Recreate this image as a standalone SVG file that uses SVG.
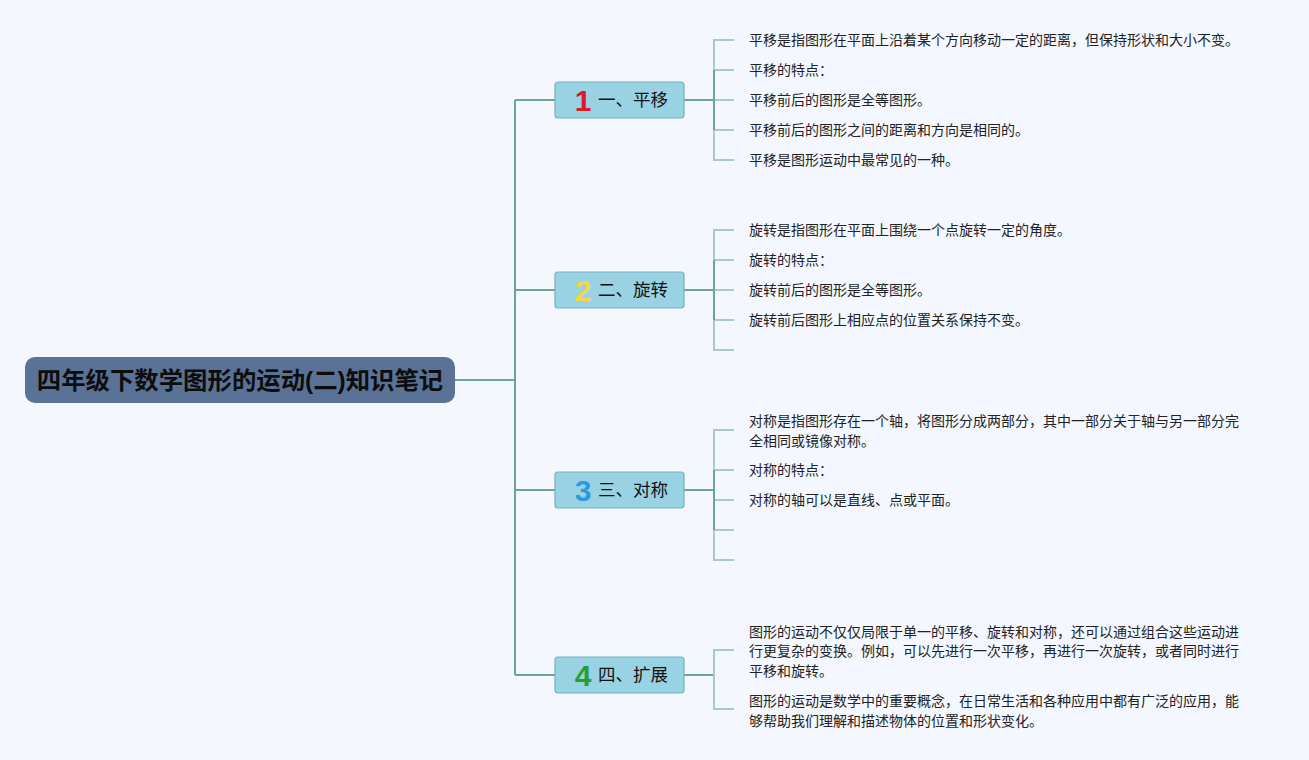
<svg xmlns="http://www.w3.org/2000/svg" width="1309" height="760" viewBox="0 0 1309 760">
<style>
.bg{fill:#f4f8fe}
.root{fill:#5a7296}
.rt{font-family:"Liberation Sans","Noto Sans CJK SC",sans-serif;font-weight:bold;font-size:24.4px;fill:#0d0d0d}
.box{fill:#98d2e3;stroke:#74b1bf;stroke-width:1.2}
.num{font-family:"Liberation Sans","Noto Sans CJK SC",sans-serif;font-weight:bold;font-size:30px}
.tt{font-family:"Noto Sans CJK SC","Liberation Sans",sans-serif;font-size:17.5px;fill:#111}
.ct{font-family:"Noto Sans CJK SC","Liberation Sans",sans-serif;font-size:14px;fill:#222}
.trunk{stroke:#6aa595;stroke-width:2;fill:none}
.br{stroke:#a9cbc4;stroke-width:2;fill:none}
.brd{stroke:#6aa595;stroke-width:2;fill:none}
</style>
<rect class="bg" x="0" y="0" width="1309" height="760"/>
<g id="connectors">
<path class="trunk" d="M455 380H515M515 100V675M515 100H555M515 290H555M515 490H555M515 675H555"/>
<path class="brd" d="M684 100H714M684 290H714M684 490H714M684 675H714"/>
<path class="br" d="M734 40H714V160H734M714 70H734M714 100H734M714 130H734"/>
<path class="brd" d="M714 70V130"/>
<path class="br" d="M734 230H714V350H734M714 260H734M714 290H734M714 320H734"/>
<path class="brd" d="M714 260V320"/>
<path class="br" d="M734 430H714V560H734M714 470H734M714 500H734M714 530H734"/>
<path class="brd" d="M714 470V530"/>
<path class="br" d="M734 650H714V709H734"/>
</g>
<g id="root">
<rect class="root" x="25" y="357" width="430" height="46" rx="10"/>
<text class="rt" x="240" y="389" text-anchor="middle">四年级下数学图形的运动(二)知识笔记</text>
</g>
<g id="topic1">
<rect class="box" x="555" y="82" width="129" height="36" rx="3"/>
<text class="num" x="583" y="111" text-anchor="middle" fill="#d81a2c">1</text>
<text class="tt" x="598" y="106">一、平移</text>
</g>
<g id="topic1-children">
<text class="ct" x="749" y="45">平移是指图形在平面上沿着某个方向移动一定的距离，但保持形状和大小不变。</text>
<text class="ct" x="749" y="75">平移的特点：</text>
<text class="ct" x="749" y="105">平移前后的图形是全等图形。</text>
<text class="ct" x="749" y="135">平移前后的图形之间的距离和方向是相同的。</text>
<text class="ct" x="749" y="165">平移是图形运动中最常见的一种。</text>
</g>
<g id="topic2">
<rect class="box" x="555" y="272" width="129" height="36" rx="3"/>
<text class="num" x="583" y="301" text-anchor="middle" fill="#f3d64c">2</text>
<text class="tt" x="598" y="296">二、旋转</text>
</g>
<g id="topic2-children">
<text class="ct" x="749" y="235">旋转是指图形在平面上围绕一个点旋转一定的角度。</text>
<text class="ct" x="749" y="265">旋转的特点：</text>
<text class="ct" x="749" y="295">旋转前后的图形是全等图形。</text>
<text class="ct" x="749" y="325">旋转前后图形上相应点的位置关系保持不变。</text>
</g>
<g id="topic3">
<rect class="box" x="555" y="472" width="129" height="36" rx="3"/>
<text class="num" x="583" y="501" text-anchor="middle" fill="#2b9ade">3</text>
<text class="tt" x="598" y="496">三、对称</text>
</g>
<g id="topic3-children">
<text class="ct" x="749" y="426">对称是指图形存在一个轴，将图形分成两部分，其中一部分关于轴与另一部分完</text>
<text class="ct" x="749" y="446">全相同或镜像对称。</text>
<text class="ct" x="749" y="475">对称的特点：</text>
<text class="ct" x="749" y="505">对称的轴可以是直线、点或平面。</text>
</g>
<g id="topic4">
<rect class="box" x="555" y="657" width="129" height="36" rx="3"/>
<text class="num" x="583" y="686" text-anchor="middle" fill="#23a033">4</text>
<text class="tt" x="598" y="681">四、扩展</text>
</g>
<g id="topic4-children">
<text class="ct" x="749" y="637">图形的运动不仅仅局限于单一的平移、旋转和对称，还可以通过组合这些运动进</text>
<text class="ct" x="749" y="656">行更复杂的变换。例如，可以先进行一次平移，再进行一次旋转，或者同时进行</text>
<text class="ct" x="749" y="676">平移和旋转。</text>
<text class="ct" x="749" y="706">图形的运动是数学中的重要概念，在日常生活和各种应用中都有广泛的应用，能</text>
<text class="ct" x="749" y="726">够帮助我们理解和描述物体的位置和形状变化。</text>
</g>
</svg>
